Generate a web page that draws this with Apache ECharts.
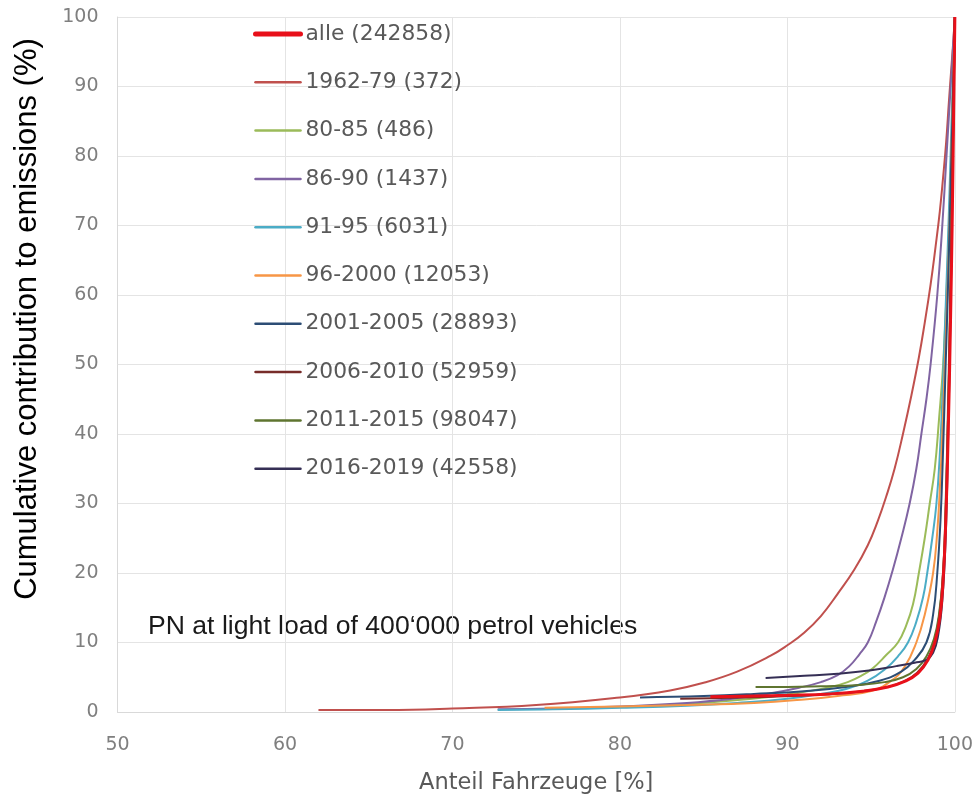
<!DOCTYPE html>
<html><head><meta charset="utf-8">
<script src="https://cdn.jsdelivr.net/npm/echarts@6/dist/echarts.min.js"></script>
<style>html,body{margin:0;padding:0;background:#fff}#c{width:976px;height:800px}</style>
</head><body><div id="c"></div>
<script>
// ---- data ----
const xTicks = [50, 60, 70, 80, 90, 100];
const yTicks = [0, 10, 20, 30, 40, 50, 60, 70, 80, 90, 100];
const seriesNames = ['alle (242858)', '1962-79 (372)', '80-85 (486)', '86-90 (1437)', '91-95 (6031)',
  '96-2000 (12053)', '2001-2005 (28893)', '2006-2010 (52959)', '2011-2015 (98047)', '2016-2019 (42558)'];
const seriesColors = ['#e8101a', '#c0504d', '#9bbb59', '#8064a2', '#4bacc6',
  '#f79646', '#2c4d75', '#772c2a', '#5f7530', '#352f55'];

const sAlle = [[85.4,2.2],[88,2.3],[90,2.4],[92.5,2.6],[94.5,3.0],[96,3.6],[97,4.4],[97.8,5.6],[98.4,7.5],[98.8,10],[99.1,13.5],[99.3,19],[99.45,27],[99.6,40],[99.73,55],[99.85,72],[99.93,87],[100,100]];
const s1962 = [[62.0,0.3],[66,0.3],[70,0.5],[75,1.0],[80,2.1],[83,3.1],[85,4.2],[87,5.8],[89,8.1],[90,9.6],[91,11.4],[92,13.8],[93,17],[94.0,20.5],[94.8,24],[95.4,27.5],[95.9,31],[96.4,35],[96.9,40],[97.4,45.5],[97.85,51],[98.2,56],[98.55,61.5],[98.85,67],[99.1,72],[99.3,77],[99.48,82],[99.65,88],[99.8,93],[99.92,97],[100,100]];
const s8085 = [[78.5,0.6],[82,0.9],[86,1.5],[89,2.2],[91,2.9],[92.6,3.6],[93.6,4.3],[94.4,5.2],[95.1,6.3],[95.9,8.2],[96.6,10],[97.1,12.5],[97.5,15.5],[97.85,20],[98.2,25],[98.5,30],[98.8,35],[99.05,42],[99.3,50],[99.5,60],[99.65,70],[99.8,80],[99.9,90],[100,100]];
const s8690 = [[72.7,0.4],[76,0.5],[80,0.8],[84,1.3],[87,2.0],[89,2.7],[90.7,3.5],[92.0,4.3],[93.0,5.3],[93.7,6.6],[94.3,8.3],[94.8,10],[95.3,13],[95.8,16.5],[96.3,20.5],[96.8,25],[97.3,30],[97.7,35],[98.0,40],[98.3,45],[98.55,50],[98.95,60],[99.25,70],[99.5,80],[99.75,90],[100,100]];
const s9195 = [[72.7,0.3],[76,0.4],[80,0.6],[84,0.9],[87,1.3],[90,1.9],[92,2.6],[93.5,3.3],[94.8,4.5],[95.9,6.3],[96.6,8.0],[97.2,10],[97.7,13],[98.1,16.5],[98.35,20],[98.65,25],[98.9,30],[99.1,37],[99.25,45],[99.4,55],[99.55,65],[99.72,78],[99.86,90],[100,100]];
const s9600 = [[75.5,0.6],[80,0.8],[84,1.0],[88,1.3],[91,1.8],[93,2.3],[95,3.0],[96.2,4.5],[97.0,6.5],[97.7,10],[98.2,14],[98.7,20],[98.95,26],[99.1,32],[99.25,40],[99.4,50],[99.55,60],[99.7,72],[99.85,86],[100,100]];
const s0105 = [[81.2,2.1],[85,2.3],[88,2.6],[91,3.0],[93.5,3.6],[95.5,4.5],[96.8,5.8],[97.6,7.5],[98.3,10],[98.7,14],[98.95,20],[99.15,28],[99.3,38],[99.45,50],[99.6,62],[99.75,76],[99.88,88],[100,100]];
const s0610 = [[83.6,1.9],[86,2.0],[89,2.2],[92,2.5],[94.5,3.0],[96.3,3.8],[97.4,5.0],[98.1,6.6],[98.6,8.8],[98.95,12],[99.2,17],[99.4,25],[99.55,38],[99.7,55],[99.82,72],[99.92,88],[100,100]];
const s1115 = [[88.1,3.6],[90,3.6],[92,3.7],[94.3,3.9],[95.8,4.3],[96.9,5.0],[97.7,6.2],[98.3,8.0],[98.75,10.5],[99.05,14],[99.3,20],[99.45,30],[99.6,45],[99.72,60],[99.83,75],[99.92,88],[100,100]];
const s1619 = [[88.7,4.9],[91,5.2],[93,5.5],[95,6.0],[96.5,6.6],[97.6,7.1],[98.3,7.5],[98.7,8.5],[99.0,11],[99.25,16],[99.45,25],[99.6,40],[99.72,55],[99.83,72],[99.92,87],[100,100]];

const yTitle = 'Cumulative contribution to emissions (%)';
const xTitle = 'Anteil Fahrzeuge [%]';
const note = 'PN at light load of 400\u2018000 petrol vehicles';

// ---- chart ----
const allData = [sAlle, s1962, s8085, s8690, s9195, s9600, s0105, s0610, s1115, s1619];
const drawOrder = [1, 2, 3, 4, 5, 6, 7, 8, 9, 0];

const chart = echarts.init(document.getElementById('c'), null, {renderer: 'canvas'});
const series = drawOrder.map(i => ({
  name: seriesNames[i],
  type: 'line',
  data: allData[i],
  symbol: 'none',
  smooth: 0.45,
  color: seriesColors[i],
  lineStyle: {width: i === 0 ? 3 : 2, color: seriesColors[i]},
  z: i === 0 ? 5 : 2
}));

chart.setOption({
  animation: false,
  backgroundColor: '#fff',
  grid: {left: 117.5, right: 21, top: 17, bottom: 86, containLabel: false},
  xAxis: {
    type: 'value', min: xTicks[0], max: xTicks[xTicks.length-1], interval: 10,
    axisLine: {show: true, lineStyle: {color: '#d9d9d9', width: 1}},
    axisTick: {show: false},
    splitLine: {show: true, lineStyle: {color: '#e4e4e4', width: 1}},
    axisLabel: {color: '#7f7f7f', fontSize: 19, fontFamily: 'DejaVu Sans', margin: 24},
    name: xTitle, nameLocation: 'middle', nameGap: 60,
    nameTextStyle: {color: '#595959', fontSize: 22.5, fontFamily: 'DejaVu Sans'}
  },
  yAxis: {
    type: 'value', min: yTicks[0], max: yTicks[yTicks.length-1], interval: 10,
    axisLine: {show: true, lineStyle: {color: '#d9d9d9', width: 1}},
    axisTick: {show: false},
    splitLine: {show: true, lineStyle: {color: '#e4e4e4', width: 1}},
    axisLabel: {color: '#7f7f7f', fontSize: 19, fontFamily: 'DejaVu Sans', margin: 19}
  },
  legend: {
    orient: 'vertical', left: 253, top: 23, padding: 0,
    itemWidth: 45, itemHeight: 14, itemGap: 26.3,
    itemStyle: {color: 'transparent', borderWidth: 0, borderColor: 'transparent'},
    textStyle: {fontFamily: 'DejaVu Sans', fontSize: 21.8, color: '#595959', lineHeight: 22},
    data: seriesNames.map((n, i) => ({name: n, lineStyle: {width: i === 0 ? 5 : 2.5, cap: 'round'}})),
    selectedMode: false
  },
  graphic: [
    {type: 'text', x: 27, y: 319, rotation: Math.PI / 2,
     style: {text: yTitle, fill: '#000', font: '31px "Liberation Sans", Arial, sans-serif', align: 'center', verticalAlign: 'middle'}},
    {type: 'text', x: 148, y: 627,
     style: {text: note, fill: '#1a1a1a', font: '26.6px "Liberation Sans", Arial, sans-serif', align: 'left', verticalAlign: 'middle'}}
  ],
  series: series
});
</script></body></html>
